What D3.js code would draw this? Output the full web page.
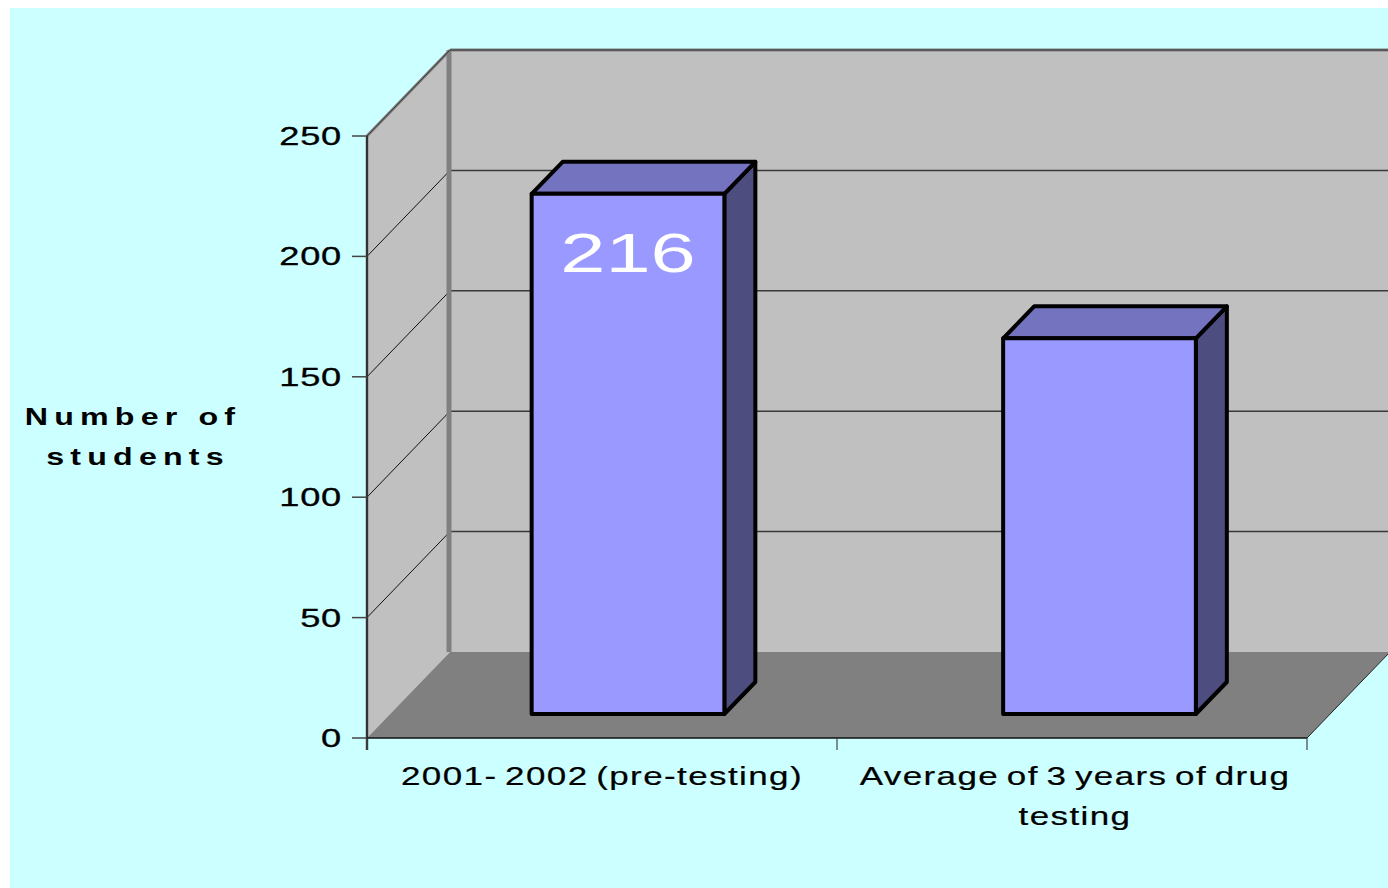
<!DOCTYPE html>
<html>
<head>
<meta charset="utf-8">
<script src="https://cdn.jsdelivr.net/npm/d3@7"></script>
<style>
html,body{margin:0;padding:0;background:#fff;}
svg{display:block;}
text{font-family:"Liberation Sans",Arial,sans-serif;}
</style>
</head>
<body>
<svg id="chart" width="1388" height="888"></svg>
<script>
// ---- data ----
const categories = ["2001- 2002 (pre-testing)", "Average of 3 years of drug testing"];
const categoryLines = [["2001- 2002 (pre-testing)"], ["Average of 3 years of drug", "testing"]];
const values = [216, 156];
const valueLabels = ["216", null];
const yTicks = [0, 50, 100, 150, 200, 250];
const yTitleLines = ["Number of", "students"];

// ---- layout ----
const W = 1388, H = 888;
const svg = d3.select("#chart");
const DX = 83, DY = -86;          // depth vector of the 3D box
const barOff = {x: 26, y: -24};   // offset of bar front face into depth
const barDepth = {x: 31, y: -32}; // bar depth
const x = d3.scaleBand().domain(categories).range([367, 1307]).paddingInner(0.59).paddingOuter(0.295);
const y = d3.scaleLinear().domain([0, 250]).range([738, 136]);
const xL = 367, xR = 1307;

// background
svg.append("rect").attr("x", 0).attr("y", 0).attr("width", W).attr("height", H).attr("fill", "#fff");
svg.append("rect").attr("x", 10).attr("y", 8).attr("width", W - 10).attr("height", H - 8).attr("fill", "#CCFFFF");

const y0 = y(0), yTop = y(250);
// back wall
svg.append("polygon")
  .attr("points", [[xL + DX, yTop + DY], [xR + DX, yTop + DY], [xR + DX, y0 + DY], [xL + DX, y0 + DY]].join(" "))
  .attr("fill", "#C0C0C0");
// left wall
svg.append("polygon")
  .attr("points", [[xL, yTop], [xL + DX, yTop + DY], [xL + DX, y0 + DY], [xL, y0]].join(" "))
  .attr("fill", "#C0C0C0");
// floor
svg.append("polygon")
  .attr("points", [[xL, y0], [xR, y0], [xR + DX, y0 + DY], [xL + DX, y0 + DY]].join(" "))
  .attr("fill", "#808080");

// gridlines
const grid = yTicks.filter(v => v > 0);
svg.selectAll(".gb").data(grid).enter().append("line")
  .attr("x1", xL + DX).attr("x2", xR + DX + 10)
  .attr("y1", d => y(d) + DY).attr("y2", d => y(d) + DY)
  .attr("stroke", "#3a3a3a").attr("stroke-width", 1.5);
svg.selectAll(".gl").data(grid.filter(v => v < 250)).enter().append("line")
  .attr("x1", xL).attr("x2", xL + DX)
  .attr("y1", d => y(d)).attr("y2", d => y(d) + DY)
  .attr("stroke", "#111").attr("stroke-width", 1);
// back wall left edge (thick gray)
svg.append("line").attr("x1", xL + DX - 1).attr("x2", xL + DX - 1)
  .attr("y1", yTop + DY).attr("y2", y0 + DY)
  .attr("stroke", "#808080").attr("stroke-width", 5);
// top edges
svg.append("line").attr("x1", xL).attr("y1", yTop).attr("x2", xL + DX).attr("y2", yTop + DY)
  .attr("stroke", "#808080").attr("stroke-width", 3);
svg.append("line").attr("x1", xL).attr("y1", yTop).attr("x2", xL + DX).attr("y2", yTop + DY)
  .attr("stroke", "#333").attr("stroke-width", 1);
svg.append("line").attr("x1", xL + DX).attr("y1", yTop + DY).attr("x2", W + 5).attr("y2", yTop + DY)
  .attr("stroke", "#808080").attr("stroke-width", 3);
svg.append("line").attr("x1", xL + DX).attr("y1", yTop + DY).attr("x2", W + 5).attr("y2", yTop + DY)
  .attr("stroke", "#333").attr("stroke-width", 1.2);
// floor right edge
svg.append("line").attr("x1", xR).attr("y1", y0).attr("x2", xR + DX).attr("y2", y0 + DY)
  .attr("stroke", "#222").attr("stroke-width", 1);

// y axis
svg.append("line").attr("x1", xL).attr("x2", xL).attr("y1", yTop).attr("y2", y0 + 12)
  .attr("stroke", "#555").attr("stroke-width", 2.5);
svg.append("line").attr("x1", xL).attr("x2", xL).attr("y1", yTop).attr("y2", y0 + 12)
  .attr("stroke", "#111").attr("stroke-width", 1);
svg.selectAll(".yt").data(yTicks).enter().append("line")
  .attr("x1", 352).attr("x2", xL).attr("y1", d => y(d)).attr("y2", d => y(d))
  .attr("stroke", "#444").attr("stroke-width", 1.5);
svg.selectAll(".yl").data(yTicks).enter().append("text")
  .attr("transform", d => `translate(342,${y(d) + 9}) scale(1.45,1)`)
  .attr("text-anchor", "end")
  .attr("font-size", 25)
  .attr("letter-spacing", "0.5px")
  .attr("fill", "#000")
  .attr("stroke", "#000").attr("stroke-width", 0.3)
  .text(d => d);

// x axis
svg.append("line").attr("x1", xL).attr("x2", xR).attr("y1", y0).attr("y2", y0)
  .attr("stroke", "#111").attr("stroke-width", 1.5);
const xTickPos = [xL].concat(categories.map(c => x(c) - x.step() * 0.295 + x.step()));
svg.selectAll(".xt").data(xTickPos).enter().append("line")
  .attr("x1", d => d).attr("x2", d => d).attr("y1", y0).attr("y2", y0 + 12)
  .attr("stroke", "#444").attr("stroke-width", 1.2);

// x labels
categories.forEach((c, i) => {
  const cx = x(c) + x.bandwidth() / 2;
  categoryLines[i].forEach((line, j) => {
    svg.append("text")
      .attr("transform", `translate(${cx + (i === 1 ? 3 : 0)},${785 + j * 40}) scale(1.4,1)`)
      .attr("text-anchor", "middle")
      .attr("font-size", 25)
      .attr("letter-spacing", "1px")
      .attr("word-spacing", "-2.5px")
      .attr("fill", "#000")
      .attr("stroke", "#000").attr("stroke-width", 0.2)
      .text(line);
  });
});

// y title
yTitleLines.forEach((line, j) => {
  svg.append("text")
    .attr("transform", `translate(${j === 0 ? 133 : 138},${425 + j * 40}) scale(1.4,1)`)
    .attr("text-anchor", "middle")
    .attr("font-size", 23)
    .attr("font-weight", "bold")
    .attr("letter-spacing", "4.4px")
    .attr("fill", "#000")
    .text(line);
});

// bars
const bw = x.bandwidth();
categories.forEach((c, i) => {
  const v = values[i];
  const fx0 = x(c) + barOff.x + (i === 1 ? 1.5 : 0), fx1 = fx0 + bw;
  const fyB = y(0) + barOff.y, fyT = y(v) + barOff.y;
  const g = svg.append("g")
    .attr("stroke", "#000").attr("stroke-width", 4).attr("stroke-linejoin", "round");
  // side
  g.append("polygon")
    .attr("points", [[fx1, fyT], [fx1 + barDepth.x, fyT + barDepth.y], [fx1 + barDepth.x, fyB + barDepth.y], [fx1, fyB]].join(" "))
    .attr("fill", "#4D4D80");
  // top
  g.append("polygon")
    .attr("points", [[fx0, fyT], [fx0 + barDepth.x, fyT + barDepth.y], [fx1 + barDepth.x, fyT + barDepth.y], [fx1, fyT]].join(" "))
    .attr("fill", "#7373BF");
  // front
  g.append("rect")
    .attr("x", fx0).attr("y", fyT).attr("width", bw).attr("height", fyB - fyT)
    .attr("fill", "#9999FF");
  if (valueLabels[i]) {
    svg.append("text")
      .attr("transform", `translate(${fx0 + bw / 2},${fyT + 78}) scale(1.45,1)`)
      .attr("text-anchor", "middle")
      .attr("font-size", 56)
      .attr("fill", "#fff")
      .text(valueLabels[i]);
  }
});
</script>
</body>
</html>
